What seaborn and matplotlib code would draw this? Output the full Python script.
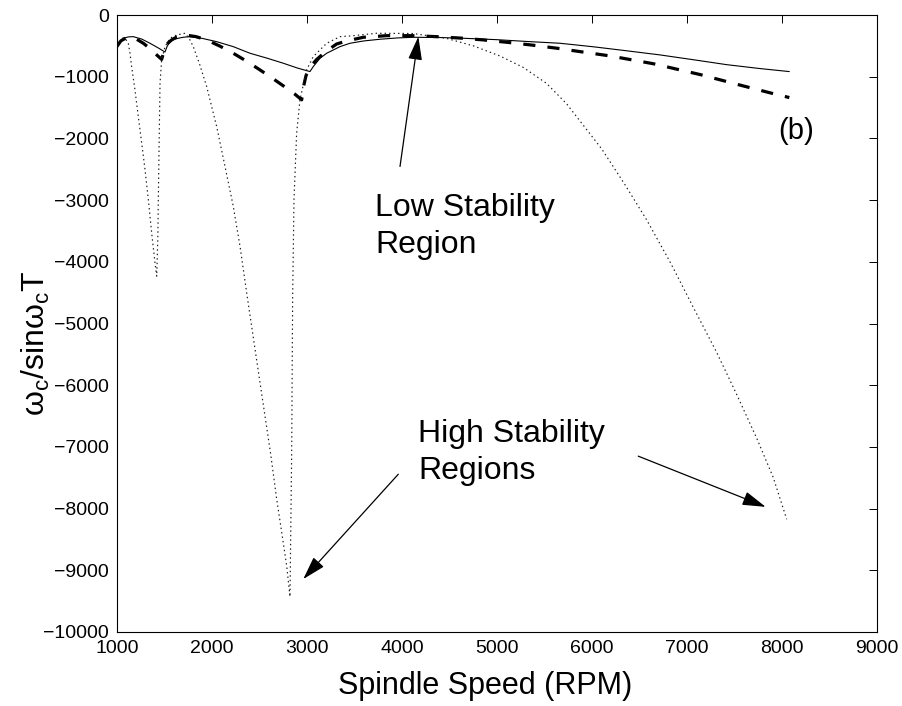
import matplotlib
matplotlib.use("Agg")
import matplotlib.pyplot as plt
import seaborn as sns

# ---------------- data ----------------
solid_x = [1000, 1032, 1066, 1120, 1172, 1260, 1347, 1430, 1505, 1530, 1558, 1600,
           1646, 1700, 1768, 1900, 2049, 2224, 2400, 2580, 2751, 2900, 3031, 3066,
           3137, 3207, 3347, 3453, 3600, 3768, 3950, 4119, 4400, 4646, 5000, 5347,
           5663, 6014, 6365, 6716, 7067, 7418, 7768, 8077]
solid_y = [-510, -432, -377, -355, -351, -390, -458, -530, -600, -500, -432, -395,
           -377, -360, -351, -380, -432, -513, -620, -700, -782, -860, -917, -836,
           -701, -620, -513, -458, -420, -393, -372, -361, -365, -377, -400, -432,
           -458, -515, -580, -647, -725, -805, -868, -917]

dashed_x = [1000, 1040, 1090, 1172, 1277, 1365, 1420, 1470, 1490, 1505, 1540, 1575,
            1630, 1716, 1830, 1944, 2084, 2224, 2365, 2505, 2645, 2786, 2870, 2944,
            2965, 2990, 3030, 3102, 3200, 3312, 3418, 3593, 3839, 4119, 4365, 4646,
            4856, 5102, 5382, 5663, 5768, 6189, 6646, 7137, 7593, 7909, 8077]
dashed_y = [-510, -420, -375, -361, -458, -566, -650, -720, -610, -513, -450, -404,
            -355, -324, -350, -404, -505, -620, -750, -890, -1035, -1186, -1280, -1375,
            -1150, -980, -850, -720, -590, -470, -420, -361, -335, -335, -351, -377,
            -404, -442, -490, -545, -570, -663, -790, -965, -1150, -1275, -1338]

dotted_x = [1000, 1030, 1060, 1090, 1119, 1137, 1154, 1189, 1224, 1260, 1295, 1330,
            1365, 1400, 1418, 1430, 1435, 1445, 1453, 1470, 1505, 1558, 1628, 1716,
            1760, 1803, 1870, 1944, 2049, 2137, 2224, 2295, 2365, 2490, 2618, 2681,
            2734, 2786, 2821, 2839, 2849, 2863, 2891, 2926, 2996, 3066, 3207, 3347,
            3453, 3734, 4119, 4470, 4751, 5032, 5277, 5523, 5733, 6102, 6347, 6575,
            6821, 7067, 7313, 7523, 7734, 7909, 8049]
dotted_y = [-500, -410, -375, -390, -458, -620, -836, -1214, -1646, -2076, -2508, -2994,
            -3533, -4018, -4234, -3600, -2994, -1914, -1105, -728, -513, -377, -324, -296,
            -380, -513, -800, -1160, -1807, -2455, -3102, -3749, -4504, -5800, -7120, -7848,
            -8387, -8927, -9428, -7040, -4558, -2993, -1914, -1375, -890, -674, -458, -351,
            -340, -296, -300, -380, -500, -665, -850, -1110, -1440, -2170, -2750, -3320,
            -4000, -4740, -5470, -6150, -6860, -7500, -8172]

x_ticks = [1000, 2000, 3000, 4000, 5000, 6000, 7000, 8000, 9000]
y_ticks = [0, -1000, -2000, -3000, -4000, -5000, -6000, -7000, -8000, -9000, -10000]

x_label = "Spindle Speed (RPM)"
y_label = r"ω$_\mathregular{c}$/sinω$_\mathregular{c}$T"

low_text = ["Low Stability", "Region"]
high_text = ["High Stability", "Regions"]
panel_text = "(b)"

# annotation anchor points (data coords)
low_arrow = ((4172, -351), (3979, -2455))            # (tip, tail)
high_arrows = [((2961, -9142), (3961, -7443)),
               ((7828, -7972), (6487, -7150))]

# ---------------- style ----------------
sns.set_theme(style="white")
plt.rcParams["font.family"] = ["Liberation Sans", "DejaVu Sans"]
plt.rcParams["mathtext.fontset"] = "custom"
plt.rcParams["mathtext.rm"] = "Liberation Sans"
plt.rcParams["axes.unicode_minus"] = True
plt.rcParams["text.color"] = "black"
plt.rcParams["axes.labelcolor"] = "black"

fig = plt.figure(figsize=(9.03, 7.06), dpi=100)
ax = fig.add_axes([117 / 903, 1 - 632 / 706, 760 / 903, 617 / 706])

sns.lineplot(x=solid_x, y=solid_y, ax=ax, sort=False, estimator=None,
             color="black", linewidth=0.8)
sns.lineplot(x=dashed_x, y=dashed_y, ax=ax, sort=False, estimator=None,
             color="black", linewidth=2.3, linestyle=(0, (3.8, 3.8)))
sns.lineplot(x=dotted_x, y=dotted_y, ax=ax, sort=False, estimator=None,
             color="0.1", linewidth=0.85, linestyle=(0, (1.2, 2.6)))

ax.set_xlim(1000, 9000)
ax.set_ylim(-10000, 0)
ax.set_xticks(x_ticks)
ax.set_yticks(y_ticks)
ax.tick_params(direction="in", length=5.5, width=0.7, top=True, right=True,
               labelsize=14, colors="black", pad=6)
for s in ax.spines.values():
    s.set_visible(True)
    s.set_color("black")
    s.set_linewidth(0.8)

ax.set_xlabel(x_label, fontsize=22, color="black")
ax.xaxis.set_label_coords((485 - 117) / 760, -(671 - 632) / 617)
ax.xaxis.label.set_va("top")
ax.set_ylabel(y_label, fontsize=23, color="black")
ax.yaxis.set_label_coords((52 - 117) / 760, (632 - 343) / 617)

fs = 23
ax.text(3716, -3252, low_text[0], fontsize=fs, ha="left", va="baseline")
ax.text(3716, -3856, low_text[1], fontsize=fs, ha="left", va="baseline")
ax.text(4172, -6926, high_text[0], fontsize=fs, ha="left", va="baseline")
ax.text(4172, -7524, high_text[1], fontsize=fs, ha="left", va="baseline")
ax.text(7958, -2006, panel_text, fontsize=21, ha="left", va="baseline")

aprops = dict(arrowstyle="-|>,head_length=1.44,head_width=0.43", color="black",
              lw=0.9, shrinkA=0, shrinkB=0, mutation_scale=10)
for tip, tail in [low_arrow] + high_arrows:
    ax.annotate("", xy=tip, xytext=tail, arrowprops=aprops)

fig.savefig("out.png", dpi=100)
